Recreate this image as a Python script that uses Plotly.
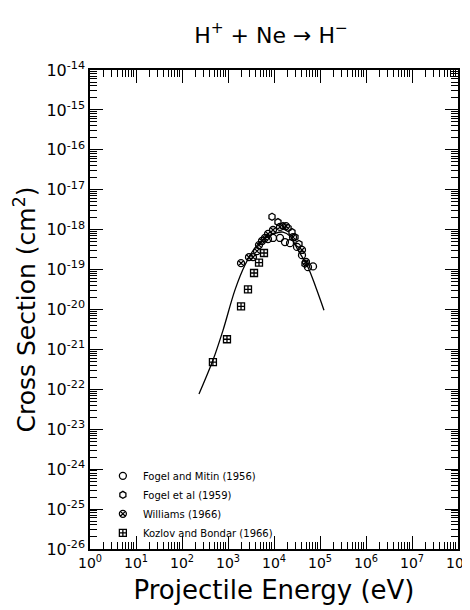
import plotly.graph_objects as go

# ---- data ----
fit_E = [234, 472, 778, 1420, 2340, 3860, 6370, 10500, 15700, 22300, 33200, 54800, 81800, 122000]
fit_sigma = [7.6e-23, 5.4e-22, 3.0e-21, 3.1e-20, 1.3e-19, 3.5e-19, 6.2e-19, 8.1e-19, 8.7e-19, 6.9e-19, 3.1e-19, 1.15e-19, 3.5e-20, 9.6e-21]

fm56_E = [7400, 9510, 13500, 17300, 22300, 31600, 40600, 54800, 70500]
fm56_sigma = [5.8e-19, 6.2e-19, 6.2e-19, 4.9e-19, 4.6e-19, 3.7e-19, 2.3e-19, 1.15e-19, 1.2e-19]

f59_E = [9050, 12200, 15700, 20200, 24600, 28600, 34900, 47200]
f59_sigma = [2.1e-18, 1.55e-18, 1.23e-18, 1.1e-18, 8.7e-19, 6.5e-19, 4.4e-19, 1.4e-19]

w66_E = [1920, 2860, 3490, 4270, 4720, 5490, 6370, 7410, 9510, 13500, 18200, 25900, 40600, 49600]
w66_sigma = [1.45e-19, 2.05e-19, 2.05e-19, 2.9e-19, 4.1e-19, 5.2e-19, 6.2e-19, 7.8e-19, 9.8e-19, 1.17e-18, 1.23e-18, 6.5e-19, 3.1e-19, 1.55e-19]

kb66_E = [470, 950, 1920, 2720, 3680, 4720, 6060]
kb66_sigma = [4.8e-22, 1.8e-21, 1.2e-20, 3.2e-20, 8.2e-20, 1.5e-19, 2.6e-19]

x_decades = list(range(0, 9))
y_decades = list(range(-26, -13))

# ---- figure ----
FONT = "DejaVu Sans"
W, H = 462, 602  # page body adds an 8px offset
fig = go.Figure()

fig.add_trace(go.Scatter(x=fit_E, y=fit_sigma, mode="lines",
                         line=dict(color="black", width=1.3), showlegend=False,
                         line_shape="spline"))

mk = dict(color="black", size=7, line=dict(color="black", width=1.3))
fig.add_trace(go.Scatter(x=fm56_E, y=fm56_sigma, mode="markers", name="Fogel and Mitin (1956)",
                         marker=dict(symbol="circle-open", **mk)))
fig.add_trace(go.Scatter(x=f59_E, y=f59_sigma, mode="markers", name="Fogel et al (1959)",
                         marker=dict(symbol="hexagon-open", **mk)))
fig.add_trace(go.Scatter(x=w66_E, y=w66_sigma, mode="markers", name="Williams (1966)",
                         marker=dict(symbol="circle-x-open", **mk)))
fig.add_trace(go.Scatter(x=kb66_E, y=kb66_sigma, mode="markers", name="Kozlov and Bondar (1966)",
                         marker=dict(symbol="square-cross-open", **mk)))

x_minor = [m * 10 ** k for k in range(0, 8) for m in range(2, 10)]
y_minor = [m * 10.0 ** k for k in range(-26, -14) for m in range(2, 10)]

fig.update_xaxes(type="log", range=[0, 8], automargin=False, ticklabeloverflow="allow",
                 tickvals=[10 ** d for d in x_decades],
                 ticktext=[f"10<sup>{d}</sup>" for d in x_decades],
                 ticks="inside", ticklen=13, tickwidth=1.3, tickcolor="black",
                 minor=dict(tickvals=x_minor, ticks="inside", ticklen=7, tickwidth=1.2, tickcolor="black"),
                 showline=True, linecolor="black", linewidth=1.5, mirror="allticks",
                 showgrid=False, zeroline=False,
                 tickfont=dict(family=FONT, size=14, color="black"),
                 title=dict(text="Projectile Energy (eV)", font=dict(family=FONT, size=26, color="black"),
                            standoff=11))
fig.update_yaxes(type="log", range=[-26, -14], automargin=False, ticklabeloverflow="allow",
                 tickvals=[10.0 ** d for d in y_decades],
                 ticktext=[f"10<sup>{d}</sup>" for d in y_decades],
                 ticks="inside", ticklen=13, tickwidth=1.3, tickcolor="black",
                 minor=dict(tickvals=y_minor, ticks="inside", ticklen=7, tickwidth=1.2, tickcolor="black"),
                 showline=True, linecolor="black", linewidth=1.5, mirror="allticks",
                 showgrid=False, zeroline=False,
                 tickfont=dict(family=FONT, size=16, color="black"))

fig.add_annotation(text="Cross Section (cm<sup>2</sup>)", xref="paper", yref="paper",
                   x=(25 - 90) / 368, y=0.5, xanchor="center", yanchor="middle",
                   textangle=-90, showarrow=False,
                   font=dict(family=FONT, size=25, color="black"))

fig.update_layout(
    width=W, height=H,
    margin=dict(l=82, r=12, t=62, b=61),
    paper_bgcolor="white", plot_bgcolor="white",
    title=dict(text="H<sup>+</sup> + Ne → H<sup>−</sup>", x=263 / W, xanchor="center",
               y=1 - 27 / H, yanchor="middle",
               font=dict(family=FONT, size=22, color="black")),
    legend=dict(x=0.035, y=0.183, xanchor="left", yanchor="top",
                bgcolor="rgba(0,0,0,0)", borderwidth=0,
                font=dict(family=FONT, size=10, color="black"),
                tracegroupgap=0, itemwidth=30),
    showlegend=True,
)

fig.write_html("out.html")
